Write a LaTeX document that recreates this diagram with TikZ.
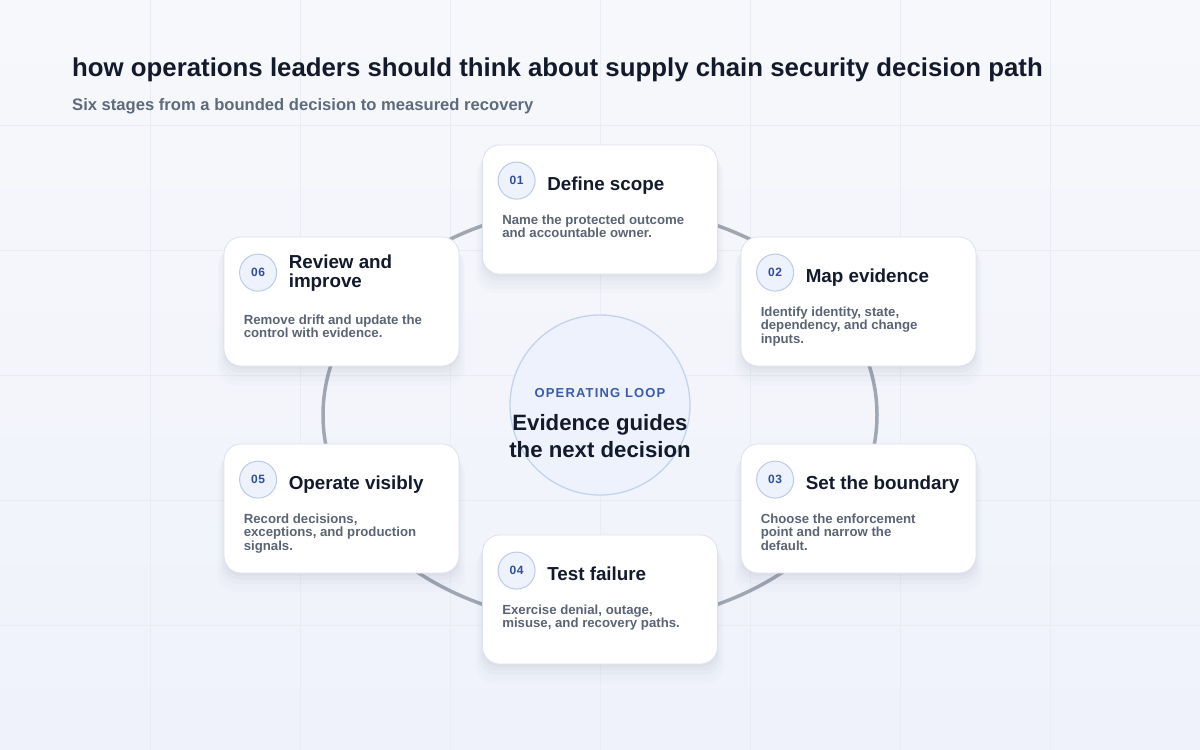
\documentclass[tikz,border=0pt]{standalone}
\usepackage{fontspec}
\setmainfont{Liberation Sans}
\usetikzlibrary{shadows}

\definecolor{bgtop}{HTML}{F7F8FB}
\definecolor{bgbot}{HTML}{EFF2FB}
\definecolor{gridc}{HTML}{E9ECF3}
\definecolor{ink}{HTML}{121A2B}
\definecolor{muted}{HTML}{5B6474}
\definecolor{subtle}{HTML}{5E6A7D}
\definecolor{ringc}{HTML}{A0A7B3}
\definecolor{cardline}{HTML}{DCE1EA}
\definecolor{numfill}{HTML}{EDF2FC}
\definecolor{numline}{HTML}{BCCBE6}
\definecolor{numtext}{HTML}{2F4F9E}
\definecolor{hubfill}{HTML}{EDF2FD}
\definecolor{hubline}{HTML}{C3D2EE}
\definecolor{loopblue}{HTML}{3A5BAE}
\definecolor{shadowc}{HTML}{3A4766}

\begin{document}
\begin{tikzpicture}[x=1pt, y=-1pt,
	card/.style={draw=cardline, fill=white, line width=0.8pt, rounded corners=17pt,
		minimum width=235pt, minimum height=129pt, inner sep=0pt,
		drop shadow={shadow xshift=0pt, shadow yshift=-3pt, opacity=0.03, fill=shadowc},
		drop shadow={shadow xshift=0pt, shadow yshift=-6pt, shadow scale=1.01, opacity=0.025, fill=shadowc},
		drop shadow={shadow xshift=0pt, shadow yshift=-9pt, shadow scale=1.025, opacity=0.02, fill=shadowc},
		drop shadow={shadow xshift=0pt, shadow yshift=-12pt, shadow scale=1.04, opacity=0.015, fill=shadowc},
		drop shadow={shadow xshift=0pt, shadow yshift=-15pt, shadow scale=1.055, opacity=0.012, fill=shadowc}},
	stepnum/.style={circle, draw=numline, fill=numfill, line width=1pt, minimum size=37pt, inner sep=0pt,
		text=numtext, font=\bfseries\fontsize{12}{12}\selectfont\addfontfeature{LetterSpace=5}},
	stagetitle/.style={anchor=north west, inner sep=0pt, align=left, text=ink,
		font=\bfseries\fontsize{18.8}{19}\selectfont},
	stagetext/.style={anchor=north west, inner sep=0pt, align=left, text=muted,
		font=\bfseries\fontsize{13.2}{13.5}\selectfont},
	ring/.style={draw=ringc, line width=3.5pt},
	hub/.style={circle, draw=hubline, fill=hubfill, line width=1.3pt, minimum size=180pt, inner sep=0pt},
	gridline/.style={draw=gridc, line width=0.6pt}]

	% фон
	\useasboundingbox (0,0) rectangle (1200,750);
	\shade[top color=bgtop, bottom color=bgbot] (0,0) rectangle (1200,750);
	\foreach \x in {150,300,...,1050} \draw[gridline] (\x,0) -- (\x,750);
	\foreach \y in {125,250,...,625} \draw[gridline] (0,\y) -- (1200,\y);

	% заголовок
	\node[anchor=base west, inner sep=0pt, text=ink, font=\bfseries\fontsize{25.8}{26}\selectfont] (title) at (72,76)
		{how operations leaders should think about supply chain security decision path};
	\node[anchor=base west, inner sep=0pt, text=subtle, font=\bfseries\fontsize{16.6}{17}\selectfont] (subtitle) at (72,110)
		{Six stages from a bounded decision to measured recovery};

	% кольцо
	\coordinate (loopc) at (600,415);
	\draw[ring] (loopc) ellipse [x radius=277pt, y radius=209pt];

	% центр
	\node[hub] (hub) at (600,405) {};
	\node[text=loopblue, font=\bfseries\fontsize{13}{13}\selectfont\addfontfeature{LetterSpace=9}, inner sep=0pt] (looplabel) at (600,393) {OPERATING LOOP};
	\node[anchor=north, align=center, inner sep=0pt, text=ink, font=\bfseries\fontsize{22.2}{27}\selectfont] (hubtext) at (600,414)
		{Evidence guides\\the next decision};

	% 01
	\node[card] (scope) at (600,209.5) {};
	\node[stepnum] (n1) at ([shift={(34.5pt,-36pt)}]scope.north west) {01};
	\node[stagetitle] (t1) at ([shift={(11.5pt,3.5pt)}]n1.east) {Define scope};
	\node[stagetext] (d1) at ([shift={(20pt,-70pt)}]scope.north west) {Name the protected outcome\\and accountable owner.};

	% 02
	\node[card] (evid) at (858.5,301.5) {};
	\node[stepnum] (n2) at ([shift={(34.5pt,-36pt)}]evid.north west) {02};
	\node[stagetitle] (t2) at ([shift={(11.5pt,3.5pt)}]n2.east) {Map evidence};
	\node[stagetext] (d2) at ([shift={(20pt,-70pt)}]evid.north west) {Identify identity, state,\\dependency, and change\\inputs.};

	% 03
	\node[card] (bound) at (858.5,508.5) {};
	\node[stepnum] (n3) at ([shift={(34.5pt,-36pt)}]bound.north west) {03};
	\node[stagetitle] (t3) at ([shift={(11.5pt,3.5pt)}]n3.east) {Set the boundary};
	\node[stagetext] (d3) at ([shift={(20pt,-70pt)}]bound.north west) {Choose the enforcement\\point and narrow the\\default.};

	% 04
	\node[card] (fail) at (600,599.5) {};
	\node[stepnum] (n4) at ([shift={(34.5pt,-36pt)}]fail.north west) {04};
	\node[stagetitle] (t4) at ([shift={(11.5pt,3.5pt)}]n4.east) {Test failure};
	\node[stagetext] (d4) at ([shift={(20pt,-70pt)}]fail.north west) {Exercise denial, outage,\\misuse, and recovery paths.};

	% 05
	\node[card] (oper) at (341.5,508.5) {};
	\node[stepnum] (n5) at ([shift={(34.5pt,-36pt)}]oper.north west) {05};
	\node[stagetitle] (t5) at ([shift={(11.5pt,3.5pt)}]n5.east) {Operate visibly};
	\node[stagetext] (d5) at ([shift={(20pt,-70pt)}]oper.north west) {Record decisions,\\exceptions, and production\\signals.};

	% 06
	\node[card] (review) at (341.5,301.5) {};
	\node[stepnum] (n6) at ([shift={(34.5pt,-36pt)}]review.north west) {06};
	\node[stagetitle] (t6) at ([shift={(11.5pt,18pt)}]n6.east) {Review and\\improve};
	\node[stagetext] (d6) at ([shift={(20pt,-78pt)}]review.north west) {Remove drift and update the\\control with evidence.};
\end{tikzpicture}
\end{document}
